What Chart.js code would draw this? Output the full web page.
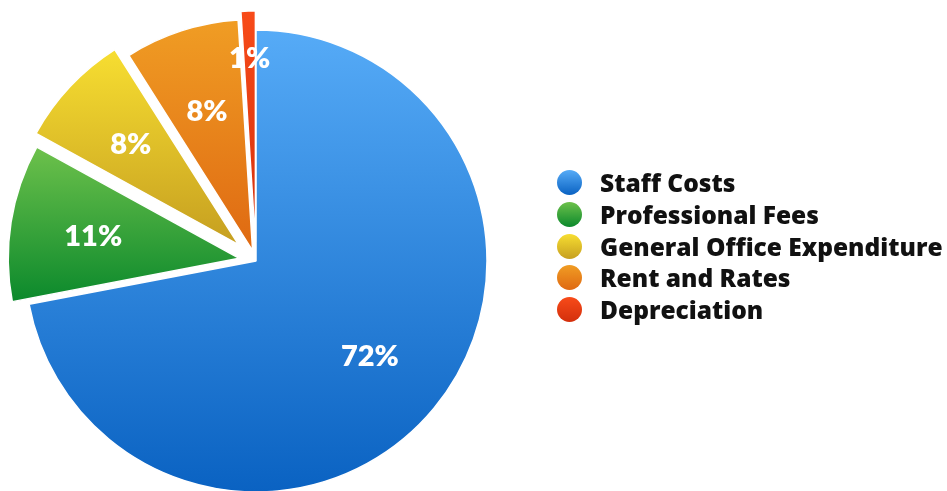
<!DOCTYPE html>
<html>
<head>
<meta charset="utf-8">
<script src="https://cdn.jsdelivr.net/npm/chart.js@4.4.1/dist/chart.umd.min.js"></script>
<style>
  html,body{margin:0;padding:0;background:#fff;}
  #wrap{position:relative;width:947px;height:491px;overflow:hidden;}
  #legend{position:absolute;left:557px;top:167px;margin:0;padding:0;list-style:none;font-family:'Open Sans',Lato,sans-serif;font-weight:800;font-size:24.5px;color:#111;}
  #legend li{height:31.7px;display:flex;align-items:center;white-space:nowrap;}
  #legend .dot{width:25px;height:25px;border-radius:50%;margin-right:18px;flex:none;}
</style>
</head>
<body>
<div id="wrap">
  <canvas id="pie"></canvas>
  <ul id="legend"></ul>
</div>
<script>
const categories=['Staff Costs','Professional Fees','General Office Expenditure','Rent and Rates','Depreciation'];
const shares=[72,11,8,8,1];
const topColors=['#56abf7','#6dc14b','#f7de31','#f09d24','#f84b19'];
const bottomColors=['#0a62c2','#0b892c','#c69f20','#df6912','#d32f0c'];
const sliceShift=[0,17,24,11,19]; // px each slice is pulled out of the pie
const PIE_RADIUS=231;

const total=shares.reduce((a,b)=>a+b,0);

function sliceGeom(chart,i){
  const area=chart.chartArea;
  const cx=(area.left+area.right)/2,cy=(area.top+area.bottom)/2;
  let start=-Math.PI/2;
  for(let k=0;k<i;k++)start+=shares[k]/total*Math.PI*2;
  const end=start+shares[i]/total*Math.PI*2;
  const mid=(start+end)/2;
  return {x:cx+Math.cos(mid)*sliceShift[i],y:cy+Math.sin(mid)*sliceShift[i],start,end};
}

function sliceFill(ctx){
  const chart=ctx.chart,i=ctx.dataIndex;
  if(!chart.chartArea)return topColors[i];
  const g=sliceGeom(chart,i);
  let minY=g.y,maxY=g.y;
  for(let a=g.start;a<=g.end+0.005;a+=0.005){
    const y=g.y+Math.sin(Math.min(a,g.end))*PIE_RADIUS;
    minY=Math.min(minY,y);maxY=Math.max(maxY,y);
  }
  const grad=chart.ctx.createLinearGradient(0,minY,0,maxY);
  grad.addColorStop(0,topColors[i]);
  grad.addColorStop(1,bottomColors[i]);
  return grad;
}

// pull slices out along their middle angle, without changing their radius
const pullOut={
  id:'pullOut',
  afterDatasetUpdate(chart,args){
    args.meta.data.forEach((arc,i)=>{
      const mid=(arc.startAngle+arc.endAngle)/2;
      arc.x+=Math.cos(mid)*sliceShift[i];
      arc.y+=Math.sin(mid)*sliceShift[i];
    });
  }
};

const sliceLabels={
  id:'sliceLabels',
  afterDatasetsDraw(chart){
    const ctx=chart.ctx;
    ctx.save();
    ctx.fillStyle='#fff';
    ctx.font='800 29px Lato, sans-serif';
    ctx.textAlign='center';
    ctx.textBaseline='alphabetic';
    chart.getDatasetMeta(0).data.forEach((arc,i)=>{
      const pct=Math.round(shares[i]/total*100);
      const mid=(arc.startAngle+arc.endAngle)/2;
      const d=arc.outerRadius*(pct<3?0.8:0.64);
      ctx.fillText(pct+'%',arc.x+Math.cos(mid)*d,arc.y+Math.sin(mid)*d+11);
    });
    ctx.restore();
  }
};

new Chart(document.getElementById('pie'),{
  type:'pie',
  data:{
    labels:categories,
    datasets:[{
      data:shares,
      backgroundColor:sliceFill,
      borderColor:'#fff',
      borderWidth:1.5,
      hoverOffset:0
    }]
  },
  options:{
    responsive:true,
    maintainAspectRatio:false,
    animation:false,
    events:[],
    radius:PIE_RADIUS,
    layout:{padding:{left:0,right:435,top:31,bottom:0}},
    plugins:{legend:{display:false},tooltip:{enabled:false}}
  },
  plugins:[pullOut,sliceLabels]
});

document.getElementById('legend').innerHTML=categories.map((c,i)=>
  `<li><span class="dot" style="background:linear-gradient(${topColors[i]},${bottomColors[i]})"></span>${c}</li>`
).join('');
</script>
</body>
</html>
